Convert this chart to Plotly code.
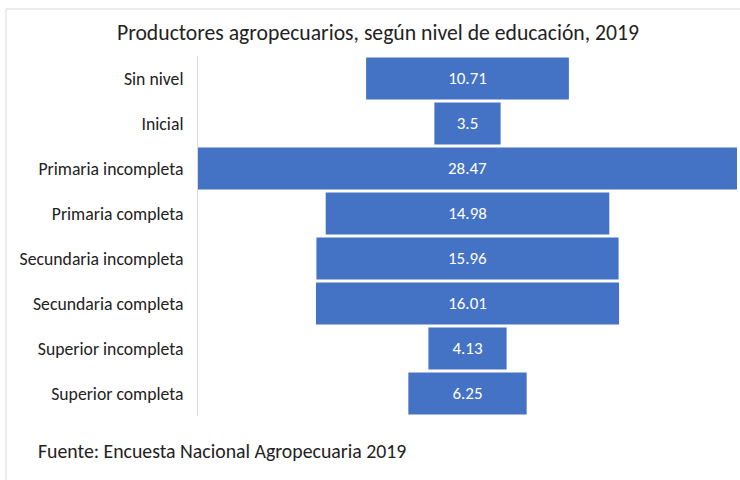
import plotly.graph_objects as go

categories = ["Sin nivel", "Inicial", "Primaria incompleta", "Primaria completa",
              "Secundaria incompleta", "Secundaria completa", "Superior incompleta",
              "Superior completa"]
values = [10.71, 3.5, 28.47, 14.98, 15.96, 16.01, 4.13, 6.25]
title = "Productores agropecuarios, según nivel de educación, 2019"
source = "Fuente: Encuesta Nacional Agropecuaria 2019"

FONT = "Carlito, Calibri, Lato, sans-serif"

fig = go.Figure(go.Funnel(
    y=categories, x=values,
    text=[f"{v:g}" for v in values], textinfo="text",
    textposition="inside", insidetextanchor="middle",
    textfont=dict(color="white", size=17, family=FONT),
    marker=dict(color="#4472C4", line=dict(width=0)),
    connector=dict(visible=False),
    hoverinfo="y+x",
))

W, H = 740, 480
L, R, T, B = 198, 3, 56, 64
pw, ph = W - L - R, H - T - B

def px(x):
    return (x - L) / pw

def py(y):
    return (H - B - y) / ph

fig.update_layout(
    width=W, height=H,
    margin=dict(l=L, r=R, t=T, b=B, autoexpand=False),
    paper_bgcolor="white", plot_bgcolor="white",
    funnelgap=0.07,
    uniformtext=dict(minsize=17, mode="show"),
    showlegend=False,
    title=dict(text=title, x=378 / W, xanchor="center", y=1 - 32 / H, yanchor="middle",
               font=dict(size=21.7, color="#222222", family=FONT)),
    xaxis=dict(visible=False, range=[-max(values) / 2, max(values) / 2]),
    yaxis=dict(showline=True, linecolor="#d9d9d9", linewidth=1, ticks="",
               ticklabelstandoff=10,
               tickfont=dict(size=17.7, color="#222222", family=FONT)),
    font=dict(family=FONT),
    annotations=[dict(text=source, xref="paper", yref="paper",
                      x=px(36), y=py(451), xanchor="left", yanchor="middle",
                      showarrow=False, font=dict(size=19.8, color="#222222", family=FONT))],
    shapes=[
        dict(type="line", xref="paper", yref="paper", x0=px(6), x1=px(6),
             y0=py(9), y1=py(480), line=dict(color="#d9d9d9", width=1)),
        dict(type="line", xref="paper", yref="paper", x0=px(6), x1=px(745),
             y0=py(9), y1=py(9), line=dict(color="#d9d9d9", width=1)),
    ],
)

fig.write_html("out.html", config={"displayModeBar": False},
               post_script="document.body.style.margin='0';")
